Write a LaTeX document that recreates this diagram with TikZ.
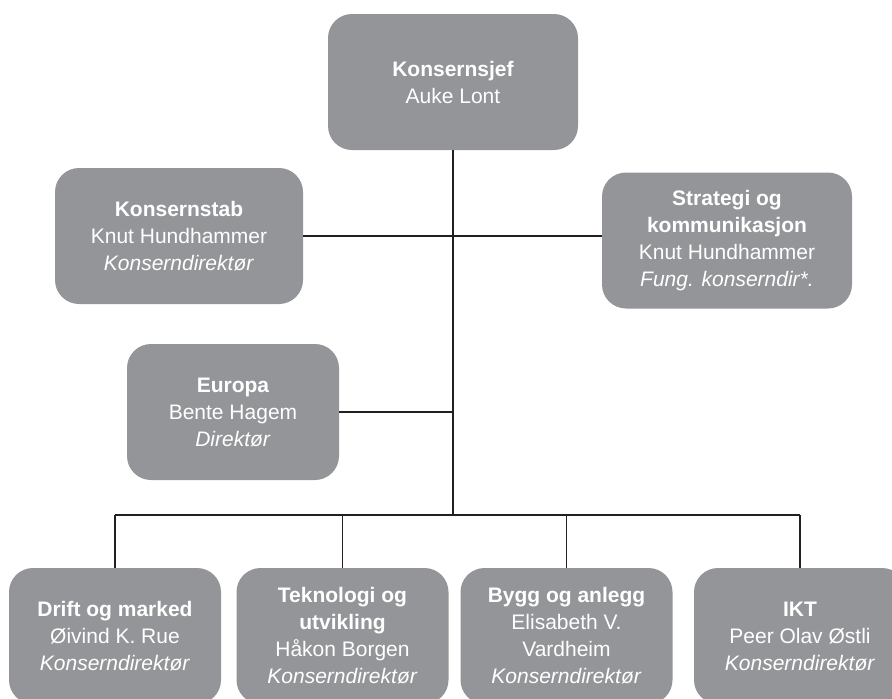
\documentclass[tikz,border=0pt]{standalone}
\usepackage{fontspec}
\setmainfont{Liberation Sans}
\usepackage{xcolor}
\usetikzlibrary{positioning,calc}
\definecolor{boxgrey}{HTML}{939598}
\definecolor{wiregrey}{HTML}{231F20}

\begin{document}
\begin{tikzpicture}[x=1pt,y=-1pt,
    unit/.style={fill=boxgrey, rounded corners=24pt, text=white, align=center,
        minimum height=136pt, inner sep=0pt, font=\fontsize{21}{27}\selectfont},
    wide/.style={unit, minimum width=250pt},
    narrow/.style={unit, minimum width=212pt},
    wire/.style={draw=wiregrey, line width=1.4pt}]
    \useasboundingbox (0,0) rectangle (892,699);

    % Top
    \node[wide] (sjef) at (453,82) {\textbf{Konsernsjef}\\Auke Lont};
    \node[wide, minimum width=248pt] (stab) at (179,236) {\textbf{Konsernstab}\\Knut Hundhammer\\\textit{Konserndirektør}};
    \node[wide] (strat) at (727,240.5) {\textbf{Strategi og}\\\textbf{kommunikasjon}\\Knut Hundhammer\\\textit{Fung. konserndir*.}};
    \node[narrow] (europa) at (233,412) {\textbf{Europa}\\Bente Hagem\\\textit{Direktør}};

    % Bottom row
    \node[narrow] (drift) at (115,636) {\textbf{Drift og marked}\\Øivind K. Rue\\\textit{Konserndirektør}};
    \node[narrow] (tek) at (342.5,636) {\textbf{Teknologi og}\\\textbf{utvikling}\\Håkon Borgen\\\textit{Konserndirektør}};
    \node[narrow] (bygg) at (566.5,636) {\textbf{Bygg og anlegg}\\Elisabeth V.\\Vardheim\\\textit{Konserndirektør}};
    \node[narrow] (ikt) at (800,636) {\textbf{IKT}\\Peer Olav Østli\\\textit{Konserndirektør}};

    % Lines
    \coordinate (bar) at (453,515);
    \draw[wire] (sjef.south) -- (bar);
    \draw[wire] (stab.east) -- (stab.east -| strat.west);
    \draw[wire] (europa.east) -- (europa.east -| bar);
    \draw[wire] (drift.north |- bar) -- (ikt.north |- bar);
    \foreach \n in {drift,tek,bygg,ikt} {
        \draw[wire] (\n.north |- bar) -- (\n.north);
    }
\end{tikzpicture}
\end{document}
